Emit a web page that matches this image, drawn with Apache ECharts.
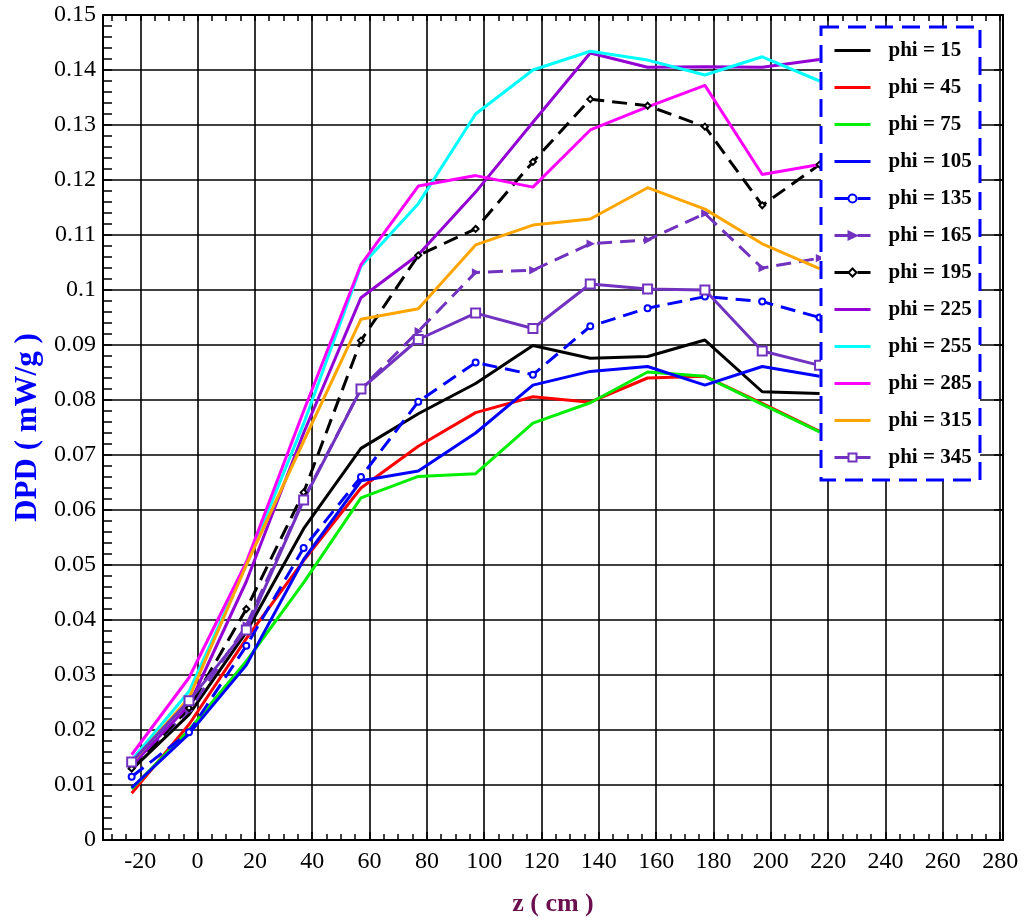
<!DOCTYPE html>
<html><head><meta charset="utf-8">
<script src="https://cdn.jsdelivr.net/npm/echarts@6/dist/echarts.min.js"></script>
<style>html,body{margin:0;padding:0;background:#fff}#c{width:1025px;height:922px}</style>
</head><body><div id="c"></div>
<script>
// ---- data ----
const zValues = [-23, -3, 17, 37, 57, 77, 97, 117, 137, 157, 177, 197, 217];
const xTickLabels = [-20, 0, 20, 40, 60, 80, 100, 120, 140, 160, 180, 200, 220, 240, 260, 280];
const phi15  = [0.0128, 0.0228, 0.0378, 0.0566, 0.0712, 0.0775, 0.0830, 0.0899, 0.0876, 0.0879, 0.0909, 0.0815, 0.0812];
const phi45  = [0.0085, 0.0210, 0.0366, 0.0508, 0.0640, 0.0716, 0.0777, 0.0806, 0.0796, 0.0840, 0.0843, 0.0794, 0.0743];
const phi75  = [0.0093, 0.0200, 0.0325, 0.0468, 0.0622, 0.0661, 0.0666, 0.0758, 0.0795, 0.0851, 0.0843, 0.0792, 0.0742];
const phi105 = [0.0095, 0.0193, 0.0318, 0.0510, 0.0653, 0.0671, 0.0740, 0.0827, 0.0852, 0.0861, 0.0827, 0.0861, 0.0843];
const phi135 = [0.0115, 0.0196, 0.0353, 0.0531, 0.0660, 0.0797, 0.0868, 0.0846, 0.0934, 0.0967, 0.0988, 0.0979, 0.0950];
const phi165 = [0.0135, 0.0235, 0.0390, 0.0620, 0.0820, 0.0925, 0.1032, 0.1036, 0.1084, 0.1091, 0.1139, 0.1040, 0.1058];
const phi195 = [0.0130, 0.0240, 0.0420, 0.0632, 0.0908, 0.1063, 0.1111, 0.1233, 0.1347, 0.1335, 0.1297, 0.1154, 0.1228];
const phi225 = [0.0135, 0.0245, 0.0470, 0.0740, 0.0986, 0.1064, 0.1178, 0.1305, 0.1431, 0.1405, 0.1406, 0.1405, 0.1419];
const phi255 = [0.0145, 0.0270, 0.0500, 0.0757, 0.1043, 0.1157, 0.1320, 0.1400, 0.1434, 0.1418, 0.1391, 0.1424, 0.1380];
const phi285 = [0.0155, 0.0295, 0.0505, 0.0780, 0.1046, 0.1189, 0.1208, 0.1187, 0.1291, 0.1333, 0.1372, 0.1210, 0.1228];
const phi315 = [0.0140, 0.0258, 0.0500, 0.0725, 0.0947, 0.0966, 0.1082, 0.1118, 0.1129, 0.1186, 0.1147, 0.1084, 0.1039];
const phi345 = [0.0142, 0.0253, 0.0382, 0.0618, 0.0820, 0.0910, 0.0958, 0.0930, 0.1011, 0.1002, 0.1000, 0.0889, 0.0863];

// ---- chart ----
const xMin = -33, xMax = 281;
const minorX = [];
for (let v = -30; v <= 280; v += 5) { if (v % 20 !== 0) minorX.push(v); }
const allMinorX = [];
for (let v = -30; v <= 280; v += 5) allMinorX.push(v);

const serif = 'Liberation Serif, Times New Roman, serif';
const PURPLE = '#7232C0';
const defs = [
  {name: 'phi = 15',  data: phi15,  color: '#000000', type: 'solid', symbol: 'none'},
  {name: 'phi = 45',  data: phi45,  color: '#FF0000', type: 'solid', symbol: 'none'},
  {name: 'phi = 75',  data: phi75,  color: '#00EE00', type: 'solid', symbol: 'none'},
  {name: 'phi = 105', data: phi105, color: '#0000FF', type: 'solid', symbol: 'none'},
  {name: 'phi = 135', data: phi135, color: '#0000FF', type: [15, 8], symbol: 'emptyCircle', size: 6},
  {name: 'phi = 165', data: phi165, color: PURPLE, type: [15, 8], symbol: 'triangle', size: 6, rotate: -90},
  {name: 'phi = 195', data: phi195, color: '#000000', type: [15, 8], symbol: 'emptyDiamond', size: 6},
  {name: 'phi = 225', data: phi225, color: '#9400D3', type: 'solid', symbol: 'none'},
  {name: 'phi = 255', data: phi255, color: '#00FFFF', type: 'solid', symbol: 'none'},
  {name: 'phi = 285', data: phi285, color: '#FF00FF', type: 'solid', symbol: 'none'},
  {name: 'phi = 315', data: phi315, color: '#FFA500', type: 'solid', symbol: 'none'},
  {name: 'phi = 345', data: phi345, color: PURPLE, type: 'solid', symbol: 'emptyRect', size: 9}
];

const series = defs.map(d => ({
  name: d.name,
  type: 'line',
  data: zValues.map((z, i) => [z, d.data[i]]),
  xAxisIndex: 0, yAxisIndex: 0,
  symbol: d.symbol,
  symbolSize: d.size || 6,
  symbolRotate: d.rotate || 0,
  showSymbol: d.symbol !== 'none',
  color: d.color,
  lineStyle: {color: d.color, width: 3, type: d.type},
  itemStyle: {color: d.color, borderColor: d.color, borderWidth: 1.5},
  z: 2,
  silent: true
}));

const legendData = defs.map(d => d.symbol === 'none'
  ? {name: d.name, itemStyle: {opacity: 0}}
  : {name: d.name});

const chart = echarts.init(document.getElementById('c'), null, {renderer: 'canvas'});
chart.setOption({
  animation: false,
  backgroundColor: '#ffffff',
  grid: {left: 103, right: 22, top: 15, bottom: 75},
  graphic: [{
    type: 'rect', z: 3,
    shape: {x: 821, y: 27, width: 159, height: 453},
    style: {fill: '#ffffff', stroke: '#0000FF', lineWidth: 3, lineDash: [18, 9]}
  }],
  legend: {
    orient: 'vertical', left: 833, top: 40, padding: 0, z: 5,
    itemWidth: 36, itemHeight: 10, itemGap: 16,
    selectedMode: false,
    data: legendData,
    lineStyle: {width: 3},
    textStyle: {fontFamily: serif, fontWeight: 'bold', fontSize: 21, color: '#000', padding: [0, 0, 0, 13]}
  },
  xAxis: [{
    type: 'value', min: xMin, max: xMax, position: 'bottom',
    name: 'z ( cm )', nameLocation: 'middle', nameGap: 51,
    nameTextStyle: {fontFamily: serif, fontWeight: 'bold', fontSize: 26, color: '#6B0F4F'},
    axisLine: {show: true, onZero: false, lineStyle: {color: '#000', width: 2}},
    axisTick: {show: true, inside: true, length: 8, customValues: xTickLabels, lineStyle: {color: '#000', width: 1.5}},
    axisLabel: {customValues: xTickLabels, fontFamily: serif, fontSize: 24, color: '#000', margin: 10},
    splitLine: {show: true, lineStyle: {color: '#000', width: 1.6}}
  }, {
    type: 'value', min: xMin, max: xMax, position: 'bottom',
    axisLine: {show: false},
    axisTick: {show: true, inside: true, length: 6, customValues: minorX, lineStyle: {color: '#000', width: 1.5}},
    axisLabel: {show: false},
    splitLine: {show: false}
  }, {
    type: 'value', min: xMin, max: xMax, position: 'top',
    axisLine: {show: true, onZero: false, lineStyle: {color: '#000', width: 2}},
    axisTick: {show: true, inside: true, length: 6, customValues: allMinorX, lineStyle: {color: '#000', width: 1.5}},
    axisLabel: {show: false},
    splitLine: {show: false}
  }],
  yAxis: [{
    type: 'value', min: 0, max: 0.15, interval: 0.01, position: 'left',
    name: 'DPD ( mW/g )', nameLocation: 'middle', nameGap: 55, nameRotate: 90,
    nameTextStyle: {fontFamily: serif, fontWeight: 'bold', fontSize: 31, color: '#0000FF'},
    axisLine: {show: true, onZero: false, lineStyle: {color: '#000', width: 2}},
    axisTick: {show: true, inside: true, length: 9, lineStyle: {color: '#000', width: 1.5}},
    minorTick: {show: true, splitNumber: 5, length: 9, lineStyle: {color: '#000', width: 1.5}},
    axisLabel: {fontFamily: serif, fontSize: 24, color: '#000', margin: 7,
      formatter: v => String(parseFloat(v.toFixed(3)))},
    splitLine: {show: true, lineStyle: {color: '#000', width: 1.6}}
  }, {
    type: 'value', min: 0, max: 0.15, interval: 0.01, position: 'right',
    axisLine: {show: true, onZero: false, lineStyle: {color: '#000', width: 2}},
    axisTick: {show: true, inside: true, length: 9, lineStyle: {color: '#000', width: 1.5}},
    axisLabel: {show: false},
    splitLine: {show: false}
  }],
  series: series
});
</script>
</body></html>
